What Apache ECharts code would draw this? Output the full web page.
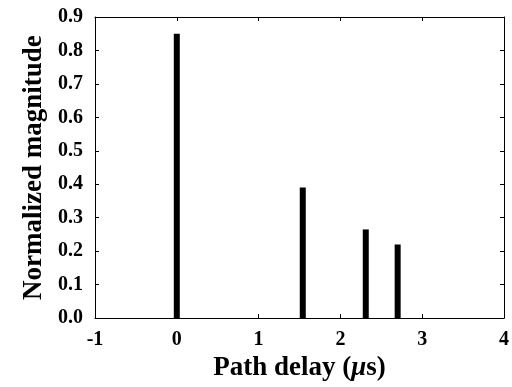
<!DOCTYPE html>
<html>
<head>
<meta charset="utf-8">
<script src="https://cdn.jsdelivr.net/npm/echarts@6/dist/echarts.min.js"></script>
<style>html,body{margin:0;padding:0;background:#fff;}#c{width:512px;height:387px;}</style>
</head>
<body>
<div id="c"></div>
<script>
var pathDelays = [0, 1.54, 2.31, 2.70];
var magnitudes = [0.85, 0.39, 0.265, 0.22];
var xTicks = [-1, 0, 1, 2, 3, 4];
var yTicks = [0.0, 0.1, 0.2, 0.3, 0.4, 0.5, 0.6, 0.7, 0.8, 0.9];

var data = pathDelays.map(function (d, i) { return [d, magnitudes[i]]; });
var font = 'Liberation Serif';
var chart = echarts.init(document.getElementById('c'), null, {renderer: 'canvas'});
function axisCommon() {
  return {
    axisLine: {show: true, onZero: false, lineStyle: {color: '#000', width: 1}},
    axisTick: {show: true, inside: true, length: 4, lineStyle: {color: '#000'}},
    splitLine: {show: false}
  };
}
chart.setOption({
  animation: false,
  backgroundColor: '#fff',
  grid: {left: 95, right: 5, top: 17, bottom: 58, containLabel: false},
  xAxis: [
    Object.assign({
      type: 'value', min: xTicks[0], max: xTicks[xTicks.length - 1], interval: 1,
      position: 'bottom',
      name: 'Path delay ({i|μ}s)', nameLocation: 'middle', nameGap: 30,
      nameTextStyle: {fontFamily: font, fontSize: 27, fontWeight: 'bold', color: '#000',
        rich: {i: {fontFamily: font, fontSize: 27, fontWeight: 'bold', fontStyle: 'italic', color: '#000'}}},
      axisLabel: {fontFamily: font, fontSize: 20, fontWeight: 'bold', color: '#000', margin: 12}
    }, axisCommon()),
    Object.assign({
      type: 'value', min: xTicks[0], max: xTicks[xTicks.length - 1], interval: 1,
      position: 'top', axisLabel: {show: false}
    }, axisCommon())
  ],
  yAxis: [
    Object.assign({
      type: 'value', min: 0, max: yTicks[yTicks.length - 1], interval: 0.1,
      position: 'left',
      name: 'Normalized magnitude', nameLocation: 'middle', nameGap: 41,
      nameTextStyle: {fontFamily: font, fontSize: 27, fontWeight: 'bold', color: '#000'},
      axisLabel: {fontFamily: font, fontSize: 20, fontWeight: 'bold', color: '#000', margin: 12,
        padding: [4, 0, 0, 0],
        formatter: function (v) { return v.toFixed(1); }}
    }, axisCommon()),
    Object.assign({
      type: 'value', min: 0, max: yTicks[yTicks.length - 1], interval: 0.1,
      position: 'right', axisLabel: {show: false}
    }, axisCommon())
  ],
  series: [{
    type: 'custom',
    xAxisIndex: 0, yAxisIndex: 0,
    data: data,
    renderItem: function (params, api) {
      var top = api.coord([api.value(0), api.value(1)]);
      var bot = api.coord([api.value(0), 0]);
      var w = 6;
      return {type: 'rect', shape: {x: top[0] - w / 2, y: top[1], width: w, height: bot[1] - top[1]},
        style: {fill: '#000'}};
    }
  }]
});
</script>
</body>
</html>
